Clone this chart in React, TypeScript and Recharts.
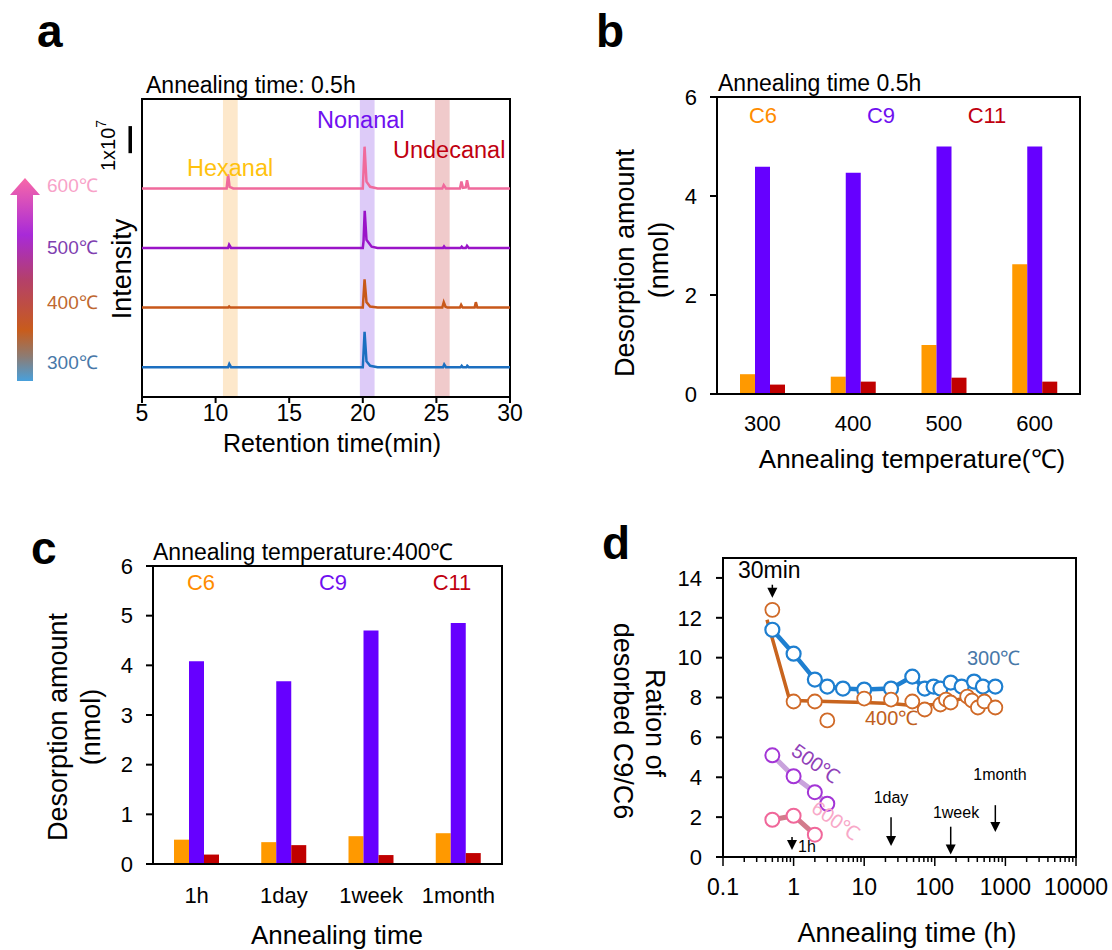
import React from 'react';
import {
  Bar,
  BarChart,
  Line,
  LineChart,
  ReferenceArea,
  ReferenceLine,
  XAxis,
  YAxis,
} from 'recharts';

const FONT = '"Liberation Sans", Arial, Helvetica, sans-serif';

// ---- panel a: chromatograms, intensity in 1e7 counts (before stacking) ----
const retentionTicks = [5, 10, 15, 20, 25, 30];
const trace300 = [
  [5, 0], [10.85, 0], [10.93, 0.12], [11.05, 0], [20.0, 0], [20.12, 1.31], [20.25, 0.22],
  [20.5, 0.05], [21, 0], [25.45, 0], [25.53, 0.1], [25.65, 0], [26.65, 0], [26.72, 0.05],
  [26.8, 0], [27.05, 0], [27.1, 0.05], [27.2, 0], [30, 0],
];
const trace400 = [
  [5, 0], [10.85, 0], [10.92, 0.04], [11.0, 0], [20.0, 0], [20.12, 1.04], [20.25, 0.2],
  [20.5, 0.04], [21, 0], [25.4, 0], [25.5, 0.2], [25.62, 0.03], [25.75, 0], [26.6, 0],
  [26.68, 0.1], [26.78, 0], [27.6, 0], [27.68, 0.2], [27.78, 0], [30, 0],
];
const trace500 = [
  [5, 0], [10.85, 0], [10.92, 0.12], [11.05, 0], [20.0, 0], [20.05, 0.25], [20.13, 1.37],
  [20.25, 0.3], [20.6, 0.05], [21, 0], [25.45, 0], [25.52, 0.06], [25.6, 0], [26.65, 0],
  [26.72, 0.05], [26.8, 0], [27.0, 0], [27.08, 0.08], [27.2, 0], [30, 0],
];
const trace600 = [
  [5, 0], [10.75, 0], [10.85, 0.52], [10.95, 0.06], [11.2, 0], [20.0, 0], [20.12, 1.54],
  [20.25, 0.25], [20.5, 0.06], [21, 0], [25.4, 0], [25.5, 0.12], [25.65, 0], [26.6, 0],
  [26.7, 0.25], [26.8, 0.02], [27.0, 0.04], [27.08, 0.3], [27.2, 0], [30, 0],
];
const traceOffsets = [1.1, 3.3, 5.5, 7.7];
const hexanalBand = [10.5, 11.5];
const nonanalBand = [19.8, 20.8];
const undecanalBand = [24.9, 25.9];

// ---- panel b: desorption vs annealing temperature (0.5 h) ----
const tempCats = ['300', '400', '500', '600'];
const tempC6 = [0.4, 0.35, 0.99, 2.62];
const tempC9 = [4.59, 4.47, 5.0, 5.0];
const tempC11 = [0.19, 0.25, 0.33, 0.25];

// ---- panel c: desorption vs annealing time (400 C) ----
const timeCats = ['1h', '1day', '1week', '1month'];
const timeC6 = [0.49, 0.44, 0.56, 0.62];
const timeC9 = [4.08, 3.68, 4.7, 4.85];
const timeC11 = [0.19, 0.38, 0.18, 0.22];

// ---- panel d: C9/C6 ratio vs annealing time (h) ----
const ratio300 = [
  [0.5, 11.4], [1, 10.2], [2, 8.9], [3, 8.55], [5, 8.45], [10, 8.4], [24, 8.45], [48, 9.05],
  [72, 8.45], [96, 8.55], [120, 8.45], [168, 8.75], [240, 8.55], [360, 8.8], [480, 8.55], [720, 8.55],
];
const ratio400 = [
  [0.5, 12.4], [1, 7.8], [2, 7.8], [3, 6.85], [10, 7.95], [24, 7.9], [48, 7.8], [72, 7.4],
  [120, 7.65], [144, 7.9], [168, 7.75], [288, 8.05], [336, 7.85], [408, 7.5], [504, 7.8], [720, 7.5],
];
const fit400 = [
  [0.42, 11.9], [0.86, 8.0], [1, 7.85], [3, 7.8], [10, 7.75], [24, 7.7], [48, 7.6],
  [100, 7.65], [250, 7.95], [400, 7.85], [720, 7.6],
];
const ratio500 = [[0.5, 5.1], [1, 4.05], [2, 3.25], [3, 2.67]];
const ratio600 = [[0.5, 1.87], [1, 2.07], [2, 1.12]];
const ratioTicks = [0, 2, 4, 6, 8, 10, 12, 14];
const decades = [0.1, 1, 10, 100, 1000];
const minorSteps = [2, 3, 4, 5, 6, 7, 8, 9];
const markers = [
  { t: 0.5, from: 13.66, to: 13.0 },
  { t: 0.95, from: 1.0, to: 0.35 },
  { t: 24, from: 2.0, to: 0.55 },
  { t: 168, from: 1.52, to: 0.12 },
  { t: 720, from: 2.6, to: 1.25 },
];

const toXY = (pts: number[][], off = 0) => pts.map(([t, v]) => ({ t, v: v + off }));

const logTicks = [
  ...decades.flatMap((d) => [d, ...minorSteps.map((m) => m * d)]),
  10000,
];
const isMajor = (v: number) => Math.abs(Math.log10(v) - Math.round(Math.log10(v))) < 1e-6;

const LogTick = (props: any) => {
  const { x, y, payload } = props;
  const v = payload.value;
  const major = isMajor(v);
  return (
    <g>
      <line x1={x} x2={x} y1={y} y2={y + (major ? 9 : 5)} stroke="#000" strokeWidth={1.5} />
      {major && (
        <text x={x} y={y + 38} textAnchor="middle" fontSize={23} fontFamily={FONT} fill="#000">
          {v < 1 ? String(v) : String(Math.round(v))}
        </text>
      )}
    </g>
  );
};

const ArrowShape = (p: any) => {
  const x1 = Number(p.x1), y1 = Number(p.y1), x2 = Number(p.x2), y2 = Number(p.y2);
  return (
    <g>
      <line x1={x1} y1={y1} x2={x2} y2={y2 - 6} stroke="#000" strokeWidth={1.5} />
      <polygon points={`${x2 - 5},${y2 - 10} ${x2 + 5},${y2 - 10} ${x2},${y2}`} fill="#000" />
    </g>
  );
};

const tickStyle = { fill: '#000', fontSize: 22, fontFamily: FONT };
const axisStroke = { stroke: '#000', strokeWidth: 2 };

const barAxes = (ticks: number[], margin: number) => [
  <XAxis
    key="x"
    dataKey="cat"
    tickLine={false}
    tickSize={0}
    tickMargin={margin}
    axisLine={axisStroke}
    tick={tickStyle}
    interval={0}
    height={50}
  />,
  <YAxis
    key="y"
    type="number"
    domain={[0, 6]}
    ticks={ticks}
    width={60}
    tickSize={7}
    tickMargin={13}
    axisLine={axisStroke}
    tickLine={axisStroke}
    tick={tickStyle}
  />,
];

export default function App() {
  const traces = [trace300, trace400, trace500, trace600];
  const traceColors = ['#1c6fc0', '#c8581a', '#9a14c8', '#f06a9c'];

  const tempData = tempCats.map((cat, i) => ({ cat, c6: tempC6[i], c9: tempC9[i], c11: tempC11[i] }));
  const timeData = timeCats.map((cat, i) => ({ cat, c6: timeC6[i], c9: timeC9[i], c11: timeC11[i] }));

  return (
    <div style={{ position: 'absolute', left: 0, top: 0, width: 1112, height: 950, background: '#fff', fontFamily: FONT }}>
      {/* a */}
      <div style={{ position: 'absolute', left: 92, top: 89 }}>
        <LineChart width={438} height={370} margin={{ top: 10, right: 20, bottom: 22, left: 50 }}>
          <ReferenceArea x1={hexanalBand[0]} x2={hexanalBand[1]} y1={0} y2={11} fill="#fde8cb" fillOpacity={1} stroke="none" />
          <ReferenceArea x1={nonanalBand[0]} x2={nonanalBand[1]} y1={0} y2={11} fill="#ddcbf8" fillOpacity={1} stroke="none" />
          <ReferenceArea x1={undecanalBand[0]} x2={undecanalBand[1]} y1={0} y2={11} fill="#f0cacb" fillOpacity={1} stroke="none" />
          <XAxis
            type="number"
            dataKey="t"
            domain={[5, 30]}
            ticks={retentionTicks}
            tickSize={6}
            tickMargin={2}
            axisLine={axisStroke}
            tickLine={axisStroke}
            tick={{ ...tickStyle, fontSize: 23 }}
            height={40}
            interval={0}
          />
          <YAxis type="number" hide domain={[0, 11]} />
          {traces.map((tr, i) => (
            <Line
              key={i}
              data={toXY(tr, traceOffsets[i])}
              dataKey="v"
              type="linear"
              stroke={traceColors[i]}
              strokeWidth={2.5}
              dot={false}
              isAnimationActive={false}
            />
          ))}
          <ReferenceLine segment={[{ x: 4.2, y: 9 }, { x: 4.2, y: 10 }]} stroke="#000" strokeWidth={3.5} ifOverflow="visible" />
          <ReferenceArea x1={5} x2={30} y1={0} y2={11} fill="none" stroke="#000" strokeWidth={2} />
        </LineChart>
      </div>

      {/* b */}
      <div style={{ position: 'absolute', left: 640, top: 80 }}>
        <BarChart width={460} height={370} data={tempData} margin={{ top: 17, right: 20, bottom: 6, left: 17 }} barGap={0} barSize={15}>
          {barAxes([0, 2, 4, 6], 21)}
          <Bar dataKey="c6" fill="#ff9900" isAnimationActive={false} />
          <Bar dataKey="c9" fill="#6600ff" isAnimationActive={false} />
          <Bar dataKey="c11" fill="#c00000" isAnimationActive={false} />
          <ReferenceArea y1={0} y2={6} fill="none" stroke="#000" strokeWidth={2} />
        </BarChart>
      </div>

      {/* c */}
      <div style={{ position: 'absolute', left: 70, top: 550 }}>
        <BarChart width={450} height={400} data={timeData} margin={{ top: 16, right: 18, bottom: 36, left: 23 }} barGap={0} barSize={15}>
          {barAxes([0, 1, 2, 3, 4, 5, 6], 23)}
          <Bar dataKey="c6" fill="#ff9900" isAnimationActive={false} />
          <Bar dataKey="c9" fill="#6600ff" isAnimationActive={false} />
          <Bar dataKey="c11" fill="#c00000" isAnimationActive={false} />
          <ReferenceArea y1={0} y2={6} fill="none" stroke="#000" strokeWidth={2} />
        </BarChart>
      </div>

      {/* d */}
      <div style={{ position: 'absolute', left: 650, top: 540 }}>
        <LineChart width={462} height={400} margin={{ top: 18, right: 36, bottom: 33, left: 13 }}>
          <XAxis
            type="number"
            dataKey="t"
            scale="log"
            domain={[0.1, 10000]}
            allowDataOverflow
            ticks={logTicks}
            interval={0}
            tickLine={false}
            tickSize={0}
            tickMargin={0}
            axisLine={axisStroke}
            tick={<LogTick />}
            height={50}
          />
          <YAxis
            type="number"
            domain={[0, 15]}
            ticks={ratioTicks}
            width={60}
            tickSize={7}
            tickMargin={14}
            axisLine={axisStroke}
            tickLine={axisStroke}
            tick={tickStyle}
          />
          <Line data={toXY(fit400)} dataKey="v" stroke="#c8641e" strokeWidth={3.5} dot={false} isAnimationActive={false} />
          <Line
            data={toXY(ratio300)}
            dataKey="v"
            stroke="#1e7fd0"
            strokeWidth={4.5}
            dot={{ r: 7, fill: '#fff', stroke: '#1e7fd0', strokeWidth: 2.2 }}
            isAnimationActive={false}
          />
          <Line
            data={toXY(ratio400)}
            dataKey="v"
            stroke="none"
            dot={{ r: 7, fill: '#fff', stroke: '#d06a28', strokeWidth: 1.8 }}
            isAnimationActive={false}
          />
          <Line
            data={toXY(ratio500)}
            dataKey="v"
            stroke="#c9a3dc"
            strokeWidth={5}
            dot={{ r: 7, fill: '#fff', stroke: '#a335d6', strokeWidth: 2 }}
            isAnimationActive={false}
          />
          <Line
            data={toXY(ratio600)}
            dataKey="v"
            stroke="#d27c8c"
            strokeWidth={5}
            dot={{ r: 7, fill: '#fff', stroke: '#f0679a', strokeWidth: 2 }}
            isAnimationActive={false}
          />
          {markers.map((m, i) => (
            <ReferenceLine
              key={i}
              segment={[{ x: m.t, y: m.from }, { x: m.t, y: m.to }]}
              ifOverflow="visible"
              shape={ArrowShape}
            />
          ))}
          <ReferenceArea x1={0.1} x2={10000} y1={0} y2={15} fill="none" stroke="#000" strokeWidth={2} />
        </LineChart>
      </div>

      {/* annotations */}
      <svg width={1112} height={950} style={{ position: 'absolute', left: 0, top: 0, pointerEvents: 'none' }} fontFamily={FONT}>
        <defs>
          <linearGradient id="tempGrad" x1="0" y1="0" x2="0" y2="1">
            <stop offset="0" stopColor="#f868a8" />
            <stop offset="0.28" stopColor="#a82ad8" />
            <stop offset="0.5" stopColor="#b4406a" />
            <stop offset="0.75" stopColor="#c85c1c" />
            <stop offset="0.88" stopColor="#8c7c74" />
            <stop offset="1" stopColor="#48a0dc" />
          </linearGradient>
        </defs>
        {/* panel letters */}
        <text x={37} y={47} fontSize={46} fontWeight="bold">a</text>
        <text x={596} y={47} fontSize={46} fontWeight="bold">b</text>
        <text x={31} y={564} fontSize={46} fontWeight="bold">c</text>
        <text x={602} y={559} fontSize={46} fontWeight="bold">d</text>

        {/* a */}
        <text x={146} y={93} fontSize={23}>Annealing time: 0.5h</text>
        <polygon points="25,178 40,195 33,195 33,381 17,381 17,195 10,195" fill="url(#tempGrad)" />
        <text x={47} y={192} fontSize={19} fill="#f8a2c8">600℃</text>
        <text x={47} y={254} fontSize={19} fill="#8040b0">500℃</text>
        <text x={47} y={309} fontSize={19} fill="#c06830">400℃</text>
        <text x={47} y={369} fontSize={19} fill="#4878a8">300℃</text>
        <text transform="translate(115,171) rotate(-90)" fontSize={20}>
          1x10<tspan dy={-9} fontSize={14}>7</tspan>
        </text>
        <text transform="translate(131,269) rotate(-90)" fontSize={27} textAnchor="middle">Intensity</text>
        <text x={187} y={176} fontSize={23.5} fill="#ffc20e">Hexanal</text>
        <text x={317} y={128} fontSize={23.5} fill="#7010f0">Nonanal</text>
        <text x={393} y={158} fontSize={23.5} fill="#c00010">Undecanal</text>
        <text x={332} y={452} fontSize={25} textAnchor="middle">Retention time(min)</text>

        {/* b */}
        <text x={718} y={91} fontSize={23}>Annealing time 0.5h</text>
        <text x={763} y={123} fontSize={22} fill="#ff8c00" textAnchor="middle">C6</text>
        <text x={881} y={123} fontSize={22} fill="#7010f0" textAnchor="middle">C9</text>
        <text x={987} y={123} fontSize={22} fill="#c00010" textAnchor="middle">C11</text>
        <text transform="translate(634,263) rotate(-90)" fontSize={27} textAnchor="middle">Desorption amount</text>
        <text transform="translate(668,260) rotate(-90)" fontSize={27} textAnchor="middle">(nmol)</text>
        <text x={912} y={468} fontSize={26} textAnchor="middle">Annealing temperature(℃)</text>

        {/* c */}
        <text x={153} y={560} fontSize={23}>Annealing temperature:400℃</text>
        <text x={201} y={590} fontSize={22} fill="#ff8c00" textAnchor="middle">C6</text>
        <text x={333} y={590} fontSize={22} fill="#7010f0" textAnchor="middle">C9</text>
        <text x={452} y={590} fontSize={22} fill="#c00010" textAnchor="middle">C11</text>
        <text transform="translate(67,727) rotate(-90)" fontSize={27} textAnchor="middle">Desorption amount</text>
        <text transform="translate(100,727) rotate(-90)" fontSize={27} textAnchor="middle">(nmol)</text>
        <text x={337} y={944} fontSize={26} textAnchor="middle">Annealing time</text>

        {/* d */}
        <text transform="translate(646,723) rotate(90)" fontSize={27} textAnchor="middle">Ration of</text>
        <text transform="translate(614,721) rotate(90)" fontSize={27} textAnchor="middle">desorbed C9/C6</text>
        <text x={738} y={578} fontSize={23}>30min</text>
        <text x={967} y={665} fontSize={20} fill="#4878a8">300℃</text>
        <text x={865} y={725} fontSize={20} fill="#c06020">400℃</text>
        <text transform="translate(815,765) rotate(35)" fontSize={20} fill="#9040b8" textAnchor="middle" dominantBaseline="middle">500℃</text>
        <text transform="translate(835,822) rotate(35)" fontSize={20} fill="#f8a8c8" textAnchor="middle" dominantBaseline="middle">600℃</text>
        <text x={798} y={852} fontSize={16}>1h</text>
        <text x={891} y={803} fontSize={16} textAnchor="middle">1day</text>
        <text x={956} y={818} fontSize={16} textAnchor="middle">1week</text>
        <text x={1000} y={780} fontSize={16} textAnchor="middle">1month</text>
        <text x={907} y={942} fontSize={27} textAnchor="middle">Annealing time (h)</text>
      </svg>
    </div>
  );
}
